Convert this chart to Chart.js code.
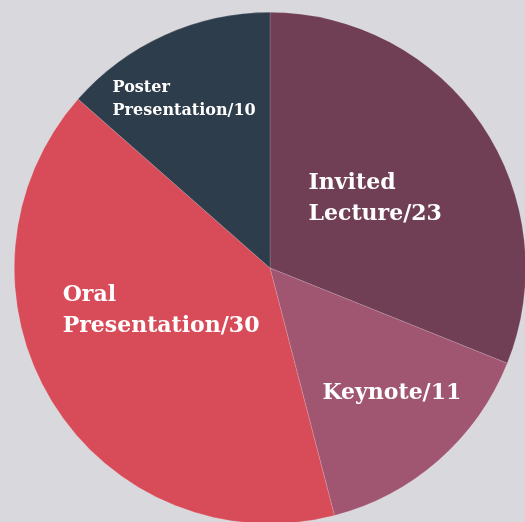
<!DOCTYPE html>
<html>
<head>
<meta charset="utf-8">
<script src="https://cdn.jsdelivr.net/npm/chart.js@4.4.1/dist/chart.umd.min.js"></script>
<style>
  html, body { margin: 0; padding: 0; width: 525px; height: 522px; overflow: hidden; background: #d9d8dc; }
  #wrap { position: absolute; left: 14px; top: 12px; width: 512px; height: 512px; }
</style>
</head>
<body>
<div id="wrap"><canvas id="c" width="512" height="512"></canvas></div>
<script>
// ---- data ----
const categories = ['Invited Lecture', 'Keynote', 'Oral Presentation', 'Poster Presentation'];
const labelLines = [['Invited', 'Lecture'], ['Keynote'], ['Oral', 'Presentation'], ['Poster', 'Presentation']];
const counts = [23, 11, 30, 10];
const sliceColors = ['#703f55', '#a05570', '#d84c5a', '#2e3d4b'];

// ---- label layout (radius fraction, angle shift in degrees, font size, line height) ----
const labelLayout = [
  { f: 0.493, shift: 0.6, size: 22, lh: 31 },
  { f: 0.684, shift: -2.8, size: 22, lh: 31 },
  { f: 0.458, shift: 10.1, size: 22, lh: 31 },
  { f: 0.739, shift: -2.7, size: 16, lh: 23 }
];

const sliceLabels = {
  id: 'sliceLabels',
  afterDatasetsDraw(chart) {
    const ctx = chart.ctx;
    const meta = chart.getDatasetMeta(0);
    meta.data.forEach((arc, i) => {
      const p = arc.getProps(['x', 'y', 'startAngle', 'endAngle', 'outerRadius'], true);
      const L = labelLayout[i];
      const mid = (p.startAngle + p.endAngle) / 2 + L.shift * Math.PI / 180;
      const ax = p.x + Math.cos(mid) * p.outerRadius * L.f;
      const ay = p.y + Math.sin(mid) * p.outerRadius * L.f;
      const lines = labelLines[i].slice();
      lines[lines.length - 1] = lines[lines.length - 1] + '/' + counts[i];
      ctx.save();
      ctx.font = 'bold ' + L.size + 'px "DejaVu Serif", serif';
      ctx.fillStyle = '#ffffff';
      ctx.textAlign = 'left';
      ctx.textBaseline = 'middle';
      const w = Math.max(...lines.map(t => ctx.measureText(t).width));
      const left = ax - w / 2;
      lines.forEach((t, k) => {
        ctx.fillText(t, left, ay + (k - (lines.length - 1) / 2) * L.lh);
      });
      ctx.restore();
    });
  }
};

new Chart(document.getElementById('c'), {
  type: 'pie',
  data: {
    labels: categories,
    datasets: [{
      data: counts,
      backgroundColor: sliceColors,
      borderColor: 'rgba(255,255,255,0.25)',
      borderWidth: 0.6
    }]
  },
  options: {
    responsive: false,
    animation: false,
    layout: { padding: 0 },
    plugins: { legend: { display: false }, tooltip: { enabled: false } }
  },
  plugins: [sliceLabels]
});
</script>
</body>
</html>
